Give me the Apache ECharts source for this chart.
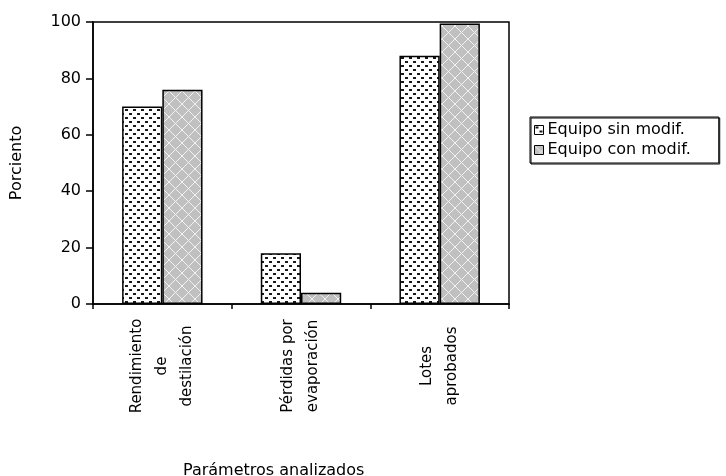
<!DOCTYPE html>
<html>
<head>
<meta charset="utf-8">
<script src="https://cdn.jsdelivr.net/npm/echarts@6/dist/echarts.min.js"></script>
<style>html,body{margin:0;padding:0;background:#fff;}#c{width:726px;height:476px;}</style>
</head>
<body>
<div id="c"></div>
<script>
var categories = ['Rendimiento\nde\ndestilación', 'Pérdidas por\nevaporación', 'Lotes\naprobados'];
var seriesNames = ['Equipo sin modif.', 'Equipo con modif.'];
var sinModif = [70, 18, 88];
var conModif = [76, 4, 99.5];
var yTicks = [0, 20, 40, 60, 80, 100];

function dotPattern() {
  var c = document.createElement('canvas');
  c.width = 8; c.height = 8;
  var g = c.getContext('2d');
  g.fillStyle = '#ffffff'; g.fillRect(0, 0, 8, 8);
  g.fillStyle = '#1a1a1a';
  g.fillRect(1, 1, 3, 2);
  g.fillRect(5, 5, 3, 2);
  return c;
}
function crossPattern() {
  var c = document.createElement('canvas');
  c.width = 13; c.height = 13;
  var g = c.getContext('2d');
  g.fillStyle = '#c0c0c0'; g.fillRect(0, 0, 13, 13);
  g.fillStyle = '#f2f2f2';
  for (var i = 0; i < 13; i++) {
    g.fillRect(i, i, 1, 1);
    g.fillRect(12 - i, i, 1, 1);
  }
  return c;
}

var font = 'DejaVu Sans';
var chart = echarts.init(document.getElementById('c'));
chart.setOption({
  animation: false,
  backgroundColor: '#fff',
  title: {
    text: 'Parámetros analizados',
    left: 178, top: 458,
    textStyle: { fontFamily: font, fontSize: 16, fontWeight: 'normal', color: '#000' }
  },
  legend: {
    orient: 'vertical',
    left: 530, top: 117,
    padding: [5, 28, 5, 4],
    itemGap: 4,
    itemWidth: 9, itemHeight: 9,
    icon: 'rect',
    borderColor: '#000', borderWidth: 1,
    shadowColor: '#000', shadowOffsetX: 1, shadowOffsetY: 1,
    textStyle: { fontFamily: font, fontSize: 16, color: '#000', padding: [0, 0, 0, -1] },
    itemStyle: { borderColor: '#000', borderWidth: 1 },
    data: seriesNames
  },
  grid: {
    left: 93, right: 217, top: 22, bottom: 172,
    show: true, borderColor: '#000', borderWidth: 1.5
  },
  xAxis: {
    type: 'category',
    data: categories,
    axisLine: { lineStyle: { color: '#000', width: 1.5 } },
    axisTick: { show: true, length: 5, lineStyle: { color: '#000', width: 1.5 } },
    axisLabel: {
      interval: 0, rotate: 90, align: 'center', verticalAlign: 'middle',
      margin: 62, lineHeight: 25,
      fontFamily: font, fontSize: 15, color: '#000'
    }
  },
  yAxis: {
    type: 'value', min: 0, max: 100, interval: 20,
    name: 'Porciento', nameLocation: 'middle', nameGap: 68,
    nameTextStyle: { fontFamily: font, fontSize: 16, color: '#000' },
    axisLine: { show: true, lineStyle: { color: '#000', width: 1.5 } },
    axisTick: { show: true, inside: false, length: 7, lineStyle: { color: '#000', width: 1.5 } },
    splitLine: { show: false },
    axisLabel: {
      margin: 12, fontFamily: font, fontSize: 16, color: '#000',
      formatter: function (v) { return yTicks.indexOf(v) >= 0 ? String(v) : ''; }
    }
  },
  series: [
    {
      name: seriesNames[0], type: 'bar', data: sinModif,
      barGap: '0%', barCategoryGap: '42%',
      itemStyle: { color: { image: dotPattern(), repeat: 'repeat' }, borderColor: '#000', borderWidth: 1.5 }
    },
    {
      name: seriesNames[1], type: 'bar', data: conModif,
      barGap: '0%', barCategoryGap: '42%',
      itemStyle: { color: { image: crossPattern(), repeat: 'repeat' }, borderColor: '#000', borderWidth: 1.5 }
    }
  ]
});
</script>
</body>
</html>
